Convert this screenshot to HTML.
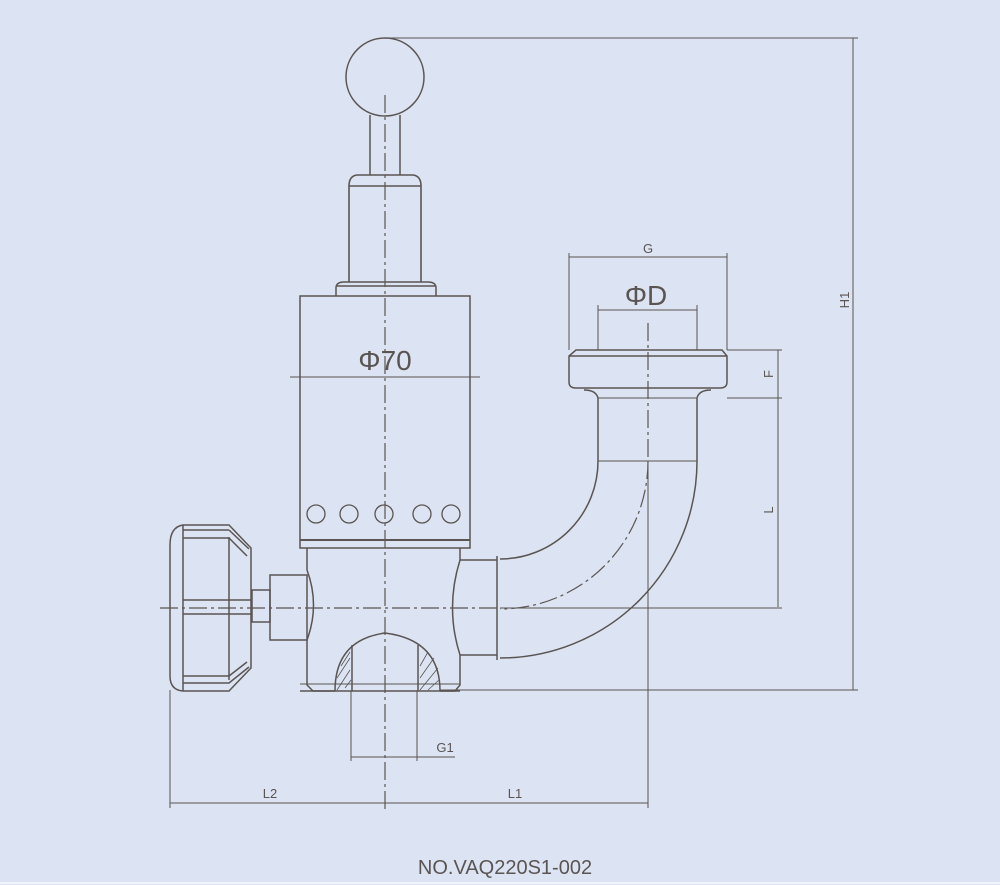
<!DOCTYPE html>
<html><head><style>html,body{margin:0;padding:0;background:#dce3f2;}svg{display:block}</style></head>
<body>
<svg width="1000" height="885" viewBox="0 0 1000 885" xmlns="http://www.w3.org/2000/svg" font-family="Liberation Sans, sans-serif">
<rect width="1000" height="885" fill="#dce3f2"/>
<g fill="none" stroke="#5a5553" stroke-width="1.5">
<!-- ball & stem -->
<circle cx="385" cy="77" r="39"/>
<line x1="370" y1="115" x2="370" y2="175"/><line x1="400" y1="115" x2="400" y2="175"/>
<path d="M357 175 H413 Q421 176 421 186 V282 M349 186 Q349 176 357 175 M349 186 V282 M349 186 H421" stroke-width="1.6"/>
<path d="M336 296 V288 Q336 282 344 282 H428 Q436 282 436 288 V296 M336 286 H436"/>
<!-- body -->
<rect x="300" y="296" width="170" height="252"/>
<line x1="300" y1="540" x2="470" y2="540" stroke-width="2"/>
<g stroke-width="1.3"><circle cx="316" cy="514" r="9"/><circle cx="349" cy="514" r="9"/><circle cx="384" cy="514" r="9"/><circle cx="422" cy="514" r="9"/><circle cx="451" cy="514" r="9"/></g>
<!-- lower body -->
<path d="M307 548 V570 Q320 605 307 640 V685 L313 691 H335 M440 691 H455 L460 685 V655 Q445 608 460 560 V548"/>
<line x1="300" y1="691" x2="460" y2="691"/>
<line x1="300" y1="684" x2="460" y2="684" stroke-width="1"/>
<!-- bottom opening -->
<path d="M335 691 Q335 640 385 633 Q440 640 440 691"/>
<line x1="352" y1="645" x2="352" y2="691"/><line x1="418" y1="645" x2="418" y2="691"/>
<g stroke-width="0.8">
<path d="M337 690 L350 670 M337 678 L350 658 M341 666 L350 652 M345 688 L351 680"/>
<path d="M420 690 L438 668 M420 678 L434 658 M420 666 L428 652 M428 690 L439 680"/>
</g>
<!-- side boss -->
<rect x="270" y="575" width="37" height="65"/>
<rect x="252" y="590" width="18" height="32"/>
<!-- handwheel -->
<path d="M183 525 Q170 527 170 545 V676 Q170 690 183 691"/>
<line x1="183" y1="525" x2="183" y2="691"/>
<path d="M183 525 H229 L251 548 V668 L229 691 H183"/>
<line x1="229" y1="537" x2="229" y2="680"/>
<path d="M183 530 H229 M183 538 H229 L247 556 M229 530 L249 549 M183 676 H229 M183 683 H229 L249 667 M229 676 L247 662"/>
<path d="M183 600 H251 M183 614 H251"/>
<!-- elbow -->
<path d="M460 560 H497 M460 655 H497"/>
<line x1="497" y1="556" x2="497" y2="660"/>
<path d="M598 461 A98 98 0 0 1 500 559"/>
<path d="M697 461 A197 197 0 0 1 500 658"/>
<line x1="598" y1="398" x2="598" y2="461"/><line x1="697" y1="398" x2="697" y2="461"/>
<line x1="598" y1="461" x2="697" y2="461" stroke-width="1"/>
<!-- flange -->
<path d="M576 350 H722 L727 356 V382 Q727 388 720 388 H576 Q569 388 569 382 V356 Z"/>
<line x1="569" y1="356" x2="727" y2="356"/>
<path d="M598 398 Q596 390 584 390 M697 398 Q699 390 711 390"/>
</g>
<!-- centerlines -->
<g fill="none" stroke="#5a5553" stroke-width="1.2" stroke-dasharray="18,4,3,4">
<line x1="385" y1="95" x2="385" y2="810"/>
<line x1="160" y1="608" x2="500" y2="608"/>
<line x1="648" y1="323" x2="648" y2="461"/>
<path d="M648 461 A148 148 0 0 1 500 609"/>
</g>
<g fill="none" stroke="#5a5553" stroke-width="1">
<line x1="500" y1="608" x2="782" y2="608"/>
<line x1="648" y1="461" x2="648" y2="808"/>
<!-- dims -->
<line x1="385" y1="38" x2="858" y2="38"/>
<line x1="440" y1="690" x2="858" y2="690"/>
<line x1="853" y1="38" x2="853" y2="690"/>
<line x1="290" y1="377" x2="480" y2="377"/>
<line x1="569" y1="253" x2="569" y2="350"/><line x1="727" y1="253" x2="727" y2="350"/>
<line x1="569" y1="257" x2="727" y2="257"/>
<line x1="598" y1="305" x2="598" y2="350"/><line x1="697" y1="305" x2="697" y2="350"/>
<line x1="598" y1="310" x2="697" y2="310"/>
<line x1="727" y1="350" x2="782" y2="350"/><line x1="727" y1="398" x2="782" y2="398"/>
<line x1="598" y1="398" x2="697" y2="398"/>
<line x1="778" y1="350" x2="778" y2="398"/>
<line x1="778" y1="398" x2="778" y2="607"/>
<line x1="351" y1="691" x2="351" y2="761"/><line x1="417" y1="691" x2="417" y2="761"/>
<line x1="351" y1="757" x2="455" y2="757"/>
<line x1="170" y1="690" x2="170" y2="808"/>
<line x1="170" y1="803" x2="648" y2="803"/>
</g>
<g fill="#5a5553" font-size="13">
<text x="648" y="253" text-anchor="middle">G</text>
<text x="445" y="752" text-anchor="middle">G1</text>
<text x="270" y="798" text-anchor="middle">L2</text>
<text x="515" y="798" text-anchor="middle">L1</text>
<text transform="translate(773 374) rotate(-90)" text-anchor="middle">F</text>
<text transform="translate(773 510) rotate(-90)" text-anchor="middle">L</text>
<text transform="translate(849 300) rotate(-90)" text-anchor="middle">H1</text>
<text x="385" y="370" text-anchor="middle" font-size="28">Φ70</text>
<text x="646" y="305" text-anchor="middle" font-size="28">ΦD</text>
<text x="505" y="874" text-anchor="middle" font-size="20">NO.VAQ220S1-002</text>
</g>
<line x1="0" y1="883" x2="1000" y2="883" stroke="#f0f3fa" stroke-width="2"/>
</svg>
</body></html>
